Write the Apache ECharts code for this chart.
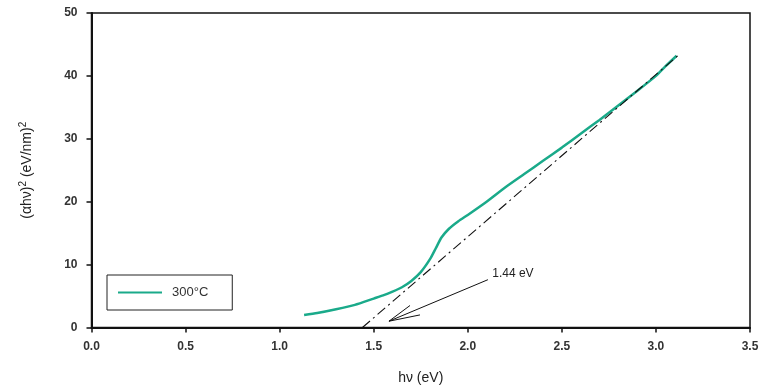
<!DOCTYPE html>
<html>
<head>
<meta charset="utf-8">
<script src="https://cdn.jsdelivr.net/npm/echarts@6/dist/echarts.min.js"></script>
<style>html,body{margin:0;padding:0;background:#fff}#c{width:763px;height:386px}</style>
</head>
<body>
<div id="c"></div>
<script>
var seriesName = '300°C';
var hv = [1.13,1.2,1.3,1.4,1.5,1.55,1.6,1.65,1.7,1.75,1.8,1.83,1.86,1.9,1.95,2.0,2.1,2.2,2.3,2.4,2.5,2.6,2.7,2.8,2.9,3.0,3.05,3.11];
var ahv2 = [2.0,2.3,2.9,3.6,4.6,5.1,5.7,6.4,7.4,8.8,10.9,12.6,14.3,15.7,16.9,17.9,20.0,22.3,24.4,26.5,28.6,30.8,33.0,35.3,37.6,40.0,41.5,43.2];
var fitX = [1.44, 3.12];
var fitY = [0, 43.3];
var arrowTip = [1.581, 1.0];
var arrowTail = [2.107, 7.6];
var arrowBarb1 = [1.693, 3.5];
var arrowBarb2 = [1.746, 2.0];
var annotText = '1.44 eV';
var annotPos = [2.13, 8.6];
var xTicks = [0, 3.5, 0.5];
var yTicks = [0, 50, 10];

var font = 'Liberation Sans, Arial, sans-serif';
var chart = echarts.init(document.getElementById('c'), null, {renderer: 'canvas'});
chart.setOption({
  backgroundColor: '#fff',
  animation: false,
  grid: {left: 91.5, right: 13, top: 13, bottom: 58.5, show: true, borderColor: '#111', borderWidth: 1.5, containLabel: false, outerBoundsMode: 'none'},
  legend: {
    data: [seriesName], left: 107, top: 275, orient: 'vertical',
    borderColor: '#222', borderWidth: 1, padding: [11, 24, 11, 11],
    itemWidth: 44, itemHeight: 14, icon: 'path://M0,6 L44,6 L44,8 L0,8 Z',
    textStyle: {fontFamily: font, fontSize: 13, color: '#333', padding: [0, 0, 0, 5]},
    itemStyle: {color: '#1aaa8a'}
  },
  xAxis: {
    type: 'value', min: xTicks[0], max: xTicks[1], interval: xTicks[2],
    name: 'hν (eV)', nameLocation: 'middle', nameGap: 44,
    nameTextStyle: {fontFamily: font, fontSize: 14, color: '#222'},
    axisLine: {lineStyle: {color: '#111', width: 2}},
    axisTick: {length: 5, lineStyle: {color: '#111', width: 1.5}},
    axisLabel: {fontFamily: font, fontSize: 12, fontWeight: 'bold', color: '#333', margin: 13, formatter: function(v){return v.toFixed(1);}},
    splitLine: {show: false}
  },
  yAxis: {
    type: 'value', min: yTicks[0], max: yTicks[1], interval: yTicks[2],
    name: '{t|(αhν)}{s|2}{t| (eV/nm)}{s|2}', nameLocation: 'middle', nameGap: 55,
    nameTextStyle: {rich: {
      t: {fontFamily: font, fontSize: 14, color: '#222'},
      s: {fontFamily: font, fontSize: 10, color: '#222', verticalAlign: 'top', padding: [0,0,8,0]}
    }},
    axisLine: {show: true, lineStyle: {color: '#111', width: 2}},
    axisTick: {show: true, length: 5, lineStyle: {color: '#111', width: 1.5}},
    axisLabel: {fontFamily: font, fontSize: 12, fontWeight: 'bold', color: '#333', margin: 14},
    splitLine: {show: false}
  },
  series: [
    {
      name: seriesName, type: 'line', symbol: 'none', smooth: 0.2,
      data: hv.map(function(x, i){return [x, ahv2[i]];}),
      lineStyle: {color: '#1aaa8a', width: 2.5},
      itemStyle: {color: '#1aaa8a'}
    },
    {
      name: 'fit', type: 'line', symbol: 'none',
      data: fitX.map(function(x, i){return [x, fitY[i]];}),
      lineStyle: {color: '#111', width: 1.1, type: [10, 4, 2, 4]},
      markLine: {
        silent: true, symbol: 'none', animation: false,
        lineStyle: {color: '#111', width: 1, type: 'solid'},
        label: {show: false},
        data: [
          [{coord: arrowTail}, {coord: arrowTip}],
          [{coord: arrowBarb1}, {coord: arrowTip}],
          [{coord: arrowBarb2}, {coord: arrowTip}]
        ]
      },
      markPoint: {
        symbol: 'circle', symbolSize: 0,
        label: {show: true, position: 'right', distance: 0, fontFamily: font, fontSize: 12, color: '#222', formatter: annotText},
        data: [{coord: annotPos}]
      }
    }
  ]
});
</script>
</body>
</html>
